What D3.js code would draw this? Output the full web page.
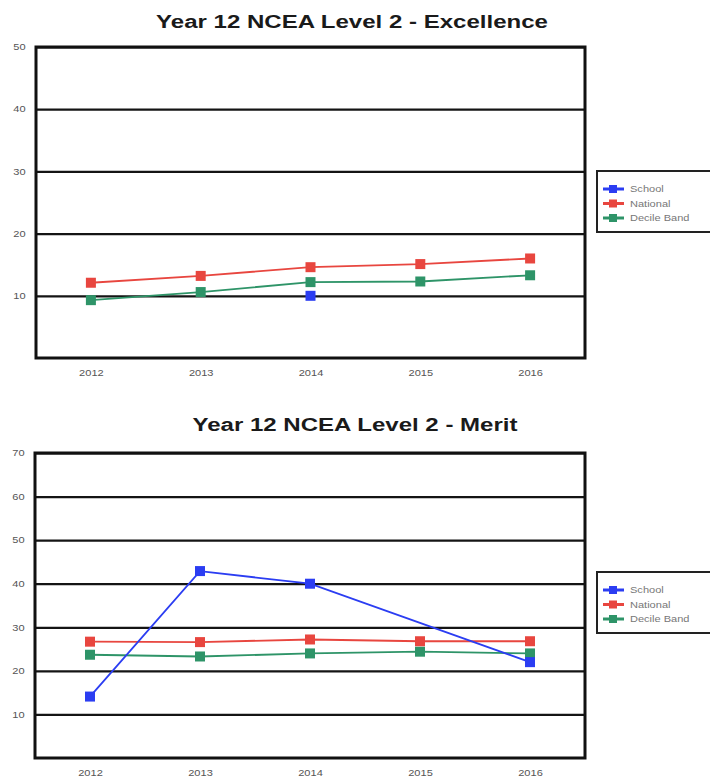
<!DOCTYPE html>
<html>
<head>
<meta charset="utf-8">
<script src="https://cdn.jsdelivr.net/npm/d3@7"></script>
<style>
  html, body { margin: 0; padding: 0; background: #fff; }
  svg { display: block; font-family: "Liberation Sans", Arial, sans-serif; }
</style>
</head>
<body>
<svg id="chart" width="710" height="781"></svg>
<script>
// ---- data ----
const years = ["2012", "2013", "2014", "2015", "2016"];
const seriesNames = ["School", "National", "Decile Band"];

const excellenceSchool   = [null, null, 10.0, null, null];
const excellenceNational = [12.1, 13.2, 14.6, 15.1, 16.0];
const excellenceDecile   = [9.3, 10.6, 12.2, 12.3, 13.3];
const excellenceTicks    = [10, 20, 30, 40, 50];

const meritSchool   = [14.1, 42.9, 40.0, null, 22.0];
const meritNational = [26.7, 26.6, 27.2, 26.8, 26.8];
const meritDecile   = [23.7, 23.3, 24.0, 24.4, 24.0];
const meritTicks    = [10, 20, 30, 40, 50, 60, 70];

const colors = { "School": "#2b3df2", "National": "#e8463f", "Decile Band": "#2e9468" };
const SX = 1.3; // horizontal text stretch seen in the reference

const svg = d3.select("#chart");

function drawChart(cfg) {
  const g = svg.append("g");
  const x = d3.scalePoint().domain(years).range([cfg.left, cfg.right]).padding(0.5);
  const y = d3.scaleLinear().domain([0, cfg.ticks[cfg.ticks.length - 1]]).range([cfg.bottom, cfg.top]);

  // title
  g.append("text")
    .attr("transform", `translate(${cfg.titleX},${cfg.titleY}) scale(${SX},1)`)
    .attr("text-anchor", "middle")
    .attr("font-size", 18.5)
    .attr("font-weight", "bold")
    .attr("fill", "#1a1a1a")
    .text(cfg.title);

  // gridlines
  const grid = g.append("g")
    .attr("transform", `translate(${cfg.left},0)`)
    .call(d3.axisLeft(y).tickValues(cfg.ticks).tickSize(-(cfg.right - cfg.left)).tickFormat(""));
  grid.select(".domain").remove();
  grid.selectAll(".tick line").attr("stroke", "#141414").attr("stroke-width", 2.2);

  // y labels
  const ya = g.append("g")
    .attr("transform", `translate(${cfg.left},0)`)
    .call(d3.axisLeft(y).tickValues(cfg.ticks).tickSize(0).tickPadding(8));
  ya.select(".domain").remove();
  ya.selectAll(".tick text")
    .attr("font-size", 8.5).attr("fill", "#555").attr("font-family", null)
    .attr("transform", `scale(${SX},1)`);

  // x labels
  const xa = g.append("g")
    .attr("transform", `translate(0,${cfg.bottom})`)
    .call(d3.axisBottom(x).tickSize(0).tickPadding(12));
  xa.select(".domain").remove();
  xa.selectAll(".tick text")
    .attr("font-size", 8.5).attr("fill", "#555").attr("font-family", null)
    .attr("transform", `scale(${SX},1)`);

  // border
  g.append("rect")
    .attr("x", cfg.left).attr("y", cfg.top)
    .attr("width", cfg.right - cfg.left).attr("height", cfg.bottom - cfg.top)
    .attr("fill", "none").attr("stroke", "#111").attr("stroke-width", 3);

  // series
  const line = d3.line().x(d => x(d.year)).y(d => y(d.v));
  const ms = 10;
  const order = ["Decile Band", "National", "School"];
  order.forEach(name => {
    const vals = cfg.series[name];
    const pts = years.map((yr, i) => ({ year: yr, v: vals[i] })).filter(d => d.v != null);
    if (pts.length > 1) {
      g.append("path").datum(pts)
        .attr("d", line).attr("fill", "none")
        .attr("stroke", colors[name]).attr("stroke-width", 1.8);
    }
    g.selectAll(null).data(pts).enter().append("rect")
      .attr("x", d => x(d.year) - ms / 2).attr("y", d => y(d.v) - ms / 2)
      .attr("width", ms).attr("height", ms)
      .attr("fill", colors[name]);
  });

  // legend
  const lg = g.append("g");
  const ly = d3.scalePoint().domain(seriesNames).range([cfg.legendY, cfg.legendY + 29]);
  lg.append("rect")
    .attr("x", 597).attr("y", cfg.legendY - 18)
    .attr("width", 130).attr("height", 29 + 32)
    .attr("fill", "#fff").attr("stroke", "#222").attr("stroke-width", 2);
  seriesNames.forEach(name => {
    const yy = ly(name);
    lg.append("line").attr("x1", 603).attr("x2", 624).attr("y1", yy).attr("y2", yy)
      .attr("stroke", colors[name]).attr("stroke-width", 3);
    lg.append("rect").attr("x", 609).attr("y", yy - 4).attr("width", 8).attr("height", 8)
      .attr("fill", colors[name]);
    lg.append("text")
      .attr("transform", `translate(630,${yy + 3}) scale(${SX},1)`)
      .attr("font-size", 8.5).attr("fill", "#777")
      .text(name);
  });
}

drawChart({
  title: "Year 12 NCEA Level 2 - Excellence",
  titleX: 352, titleY: 28,
  left: 36, right: 585, top: 47, bottom: 358,
  ticks: excellenceTicks,
  series: { "School": excellenceSchool, "National": excellenceNational, "Decile Band": excellenceDecile },
  legendY: 189
});

drawChart({
  title: "Year 12 NCEA Level 2 - Merit",
  titleX: 355, titleY: 431,
  left: 35, right: 585, top: 453, bottom: 758,
  ticks: meritTicks,
  series: { "School": meritSchool, "National": meritNational, "Decile Band": meritDecile },
  legendY: 590
});
</script>
</body>
</html>
